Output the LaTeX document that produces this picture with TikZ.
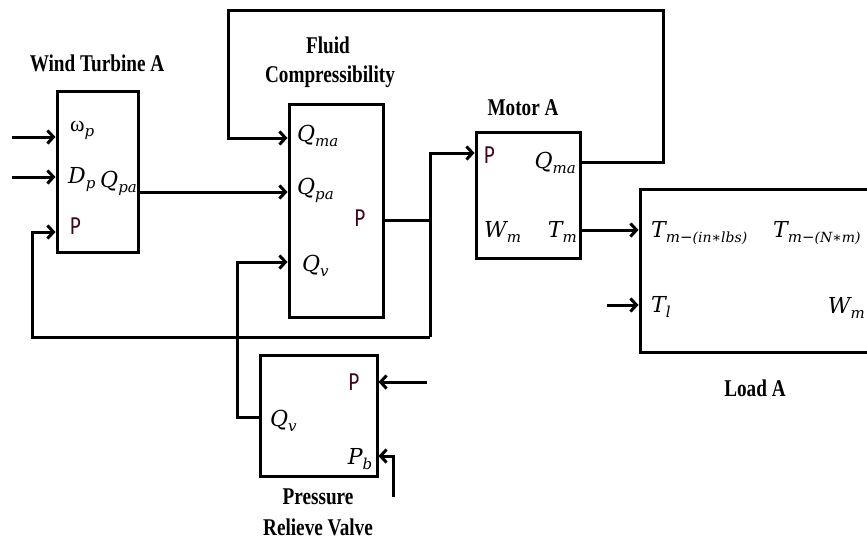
\RequirePackage{fix-cm}
\documentclass[tikz,border=0pt]{standalone}
\usepackage{fontspec}
\setmainfont{Liberation Serif}
\newfontfamily\pfont{Carlito}
\newfontfamily\mfont{DejaVu Serif}
\usetikzlibrary{arrows.meta}
\newcommand\sqz[1]{\scalebox{0.8}[1]{#1}}
\newcommand\subsz{\fontsize{15}{15}\selectfont}
\newcommand\ssubsz{\fontsize{14}{14}\selectfont}
\newcommand\ml[2]{{\mfont\itshape #1}\raisebox{-5pt}{\subsz\mfont\itshape #2}}
\definecolor{pcol}{RGB}{60,5,30}
\begin{document}
\begin{tikzpicture}[x=1pt,y=-1pt,
  box/.style={draw,line width=3pt,inner sep=0pt},
  wire/.style={line width=3pt},
  arr/.style={wire,-{Straight Barb[length=6pt,width=13pt,line width=3pt]}},
  ttl/.style={font=\fontsize{24}{27}\selectfont\bfseries,align=center,inner sep=0pt},
  mlab/.style={font=\fontsize{22}{24}\selectfont,inner sep=0pt},
  plab/.style={font=\fontsize{26}{28}\selectfont\pfont,text=pcol,inner sep=0pt}]
\useasboundingbox (0,0) rectangle (867,541);
\clip (0,0) rectangle (867,541);
% boxes
\node[box,minimum width=81pt,minimum height=161pt] (wt) at (97.5,171.5) {};
\node[box,minimum width=94pt,minimum height=213pt] (fc) at (336,210.5) {};
\node[box,minimum width=104pt,minimum height=126pt] (mo) at (528,195) {};
\node[box,minimum width=230pt,minimum height=163pt] (ld) at (755,270.5) {};
\node[box,minimum width=117pt,minimum height=121pt] (pv) at (318.5,415.5) {};
% titles
\node[ttl] (twt) at (97,63) {\sqz{Wind Turbine A}};
\node[ttl] (tfc1) at (328,45) {\sqz{Fluid}};
\node[ttl] (tfc2) at (330,77) {\sqz{Compressibility}};
\node[ttl] (tmo) at (523,108) {\sqz{Motor A}};
\node[ttl] (tld) at (755,388) {\sqz{Load A}};
\node[ttl] (tpv1) at (318,497) {\sqz{Pressure}};
\node[ttl] (tpv2) at (318,527) {\sqz{Relieve Valve}};
% wind turbine labels
\node[mlab,anchor=west] (lw) at (70,130) {ω\raisebox{-5pt}{\subsz\mfont\itshape p}};
\node[mlab,anchor=west] (ld1) at (68,180) {\ml{D}{p}};
\node[mlab,anchor=east] (lq) at (137,183) {\ml{Q}{pa}};
\node[plab,anchor=west] (lp1) at (70,226) {\sqz{P}};
% fluid labels
\node[mlab,anchor=west] (fq1) at (297,136) {\ml{Q}{ma}};
\node[mlab,anchor=west] (fq2) at (297,190) {\ml{Q}{pa}};
\node[mlab,anchor=west] (fq3) at (302,266) {\ml{Q}{v}};
\node[plab] (fp) at (360,218) {\sqz{P}};
% motor labels
\node[plab,anchor=west] (mp) at (484,155) {\sqz{P}};
\node[mlab,anchor=east] (mq) at (576,163) {\ml{Q}{ma}};
\node[mlab,anchor=west] (mw) at (484,232) {\ml{W}{m}};
\node[mlab,anchor=east] (mt) at (577,232) {\ml{T}{m}};
% load labels
\node[mlab,anchor=west] (lt1) at (651,233) {{\mfont\itshape T}\raisebox{-5pt}{\subsz\mfont\itshape m\/−\ssubsz(in∗lbs)}};
\node[mlab,anchor=west] (lt2) at (773,233) {{\mfont\itshape T}\raisebox{-5pt}{\subsz\mfont\itshape m\/−\ssubsz(N∗m)}};
\node[mlab,anchor=west] (ltl) at (651,307) {\ml{T}{l}};
\node[mlab,anchor=east] (lwm) at (865,308) {\ml{W}{m}};
% valve labels
\node[mlab,anchor=west] (vq) at (270,421) {\ml{Q}{v}};
\node[plab] (vp) at (354,382) {\sqz{P}};
\node[mlab] (vpb) at (360,459) {\ml{P}{b}};
% free ends
\coordinate (in1) at (12,137);
\coordinate (in2) at (12,177);
\coordinate (fbl) at (32,337);
\coordinate (jn) at (430,220);
\coordinate (top) at (663,10);
\coordinate (tin) at (607,305);
\coordinate (vpin) at (427,382);
\coordinate (vpbin) at (393,497);
% connectors
\draw[arr] (in1) -- (wt.west |- in1);
\draw[arr] (in2) -- (wt.west |- in2);
\draw[arr] (wt.east |- 0,192) -- (fc.west |- 0,192);
\draw[wire] (fc.east |- jn) -- (jn);
\draw[arr] (jn |- fbl) -- (jn |- 0,153) -- (mo.west |- 0,153);
\draw[arr] (jn |- fbl) -- (fbl) -- (fbl |- 0,232) -- (wt.west |- 0,232);
\draw[arr] (mo.east |- 0,162) -- (top |- 0,162) -- (top) -- (228,10) -- (228,138) -- (fc.west |- 0,138);
\draw[arr] (mo.east |- 0,230) -- (ld.west |- 0,230);
\draw[arr] (tin) -- (ld.west |- tin);
\draw[arr] (pv.west |- 0,417) -- (237,417) -- (237,262) -- (fc.west |- 0,262);
\draw[arr] (vpin) -- (pv.east |- vpin);
\draw[arr] (vpbin) -- (vpbin |- 0,456) -- (pv.east |- 0,456);
\end{tikzpicture}
\end{document}
